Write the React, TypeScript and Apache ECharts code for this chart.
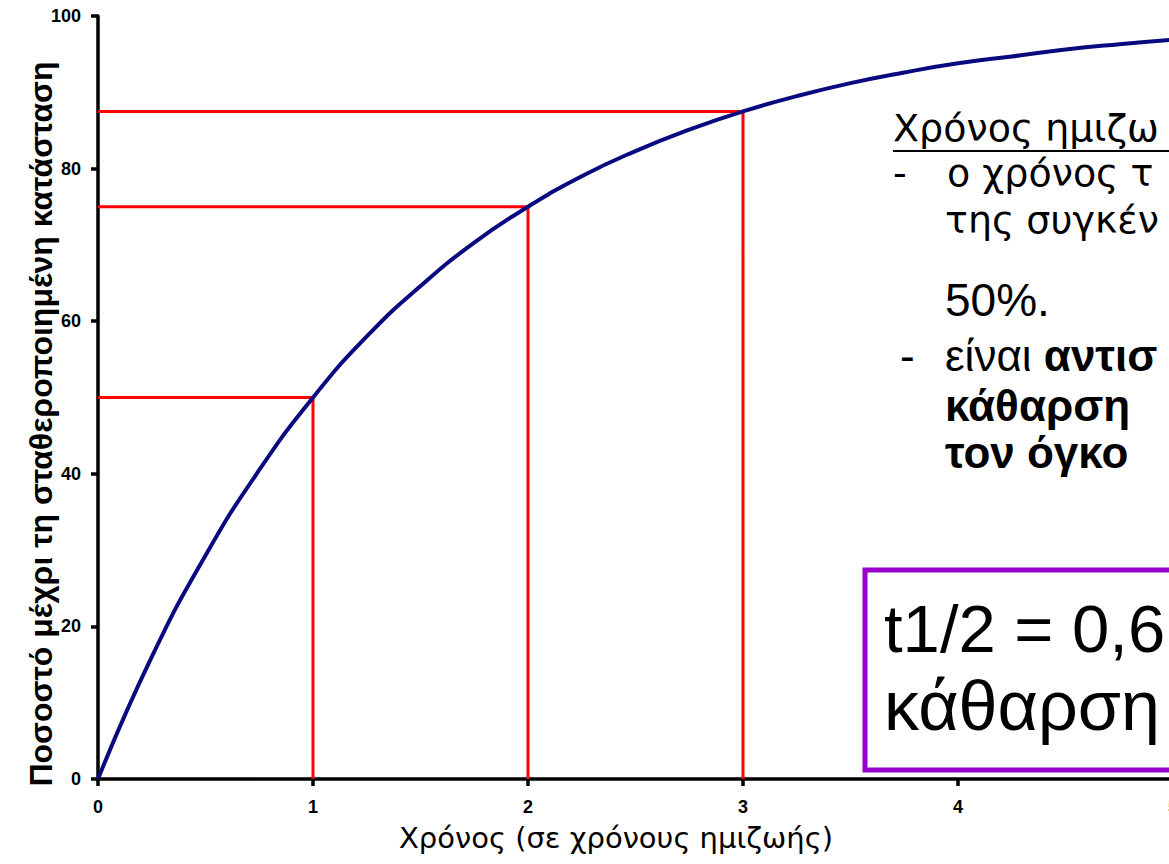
import React, { useEffect, useRef } from "react";
import * as echarts from "echarts";

// Time in half-lives and percentage of steady state
const halfLives = [0, 0.25, 0.5, 0.75, 1, 1.25, 1.5, 1.75, 2, 2.25, 2.5, 2.75, 3, 3.25, 3.5, 3.75, 4, 4.25, 4.5, 4.75, 5];
const percentSteady = [0, 16, 29.3, 40.5, 50, 58, 64.6, 70.3, 75, 79, 82.3, 85.1, 87.5, 89.5, 91.2, 92.6, 93.8, 94.7, 95.6, 96.3, 96.9];

// Guide points (half-life count, percentage)
const guideX = [1, 2, 3];
const guideY = [50, 75, 87.5];

const yTitle = "Ποσοστό μέχρι τη σταθεροποιημένη κατάσταση";
const xTitle = "Χρόνος (σε χρόνους ημιζωής)";

// Visible parts of the side note (the slide is cropped at the right edge)
const noteHeading = "Χρόνος ημιζω";
const note1a = "ο χρόνος τ";
const note1b = "της συγκέν";
const note1c = "50%.";
const note2Regular = "είναι ";
const note2Bold = "αντισ";
const note2b = "κάθαρση";
const note2c = "τον όγκο";
const formula1 = "t1/2 = 0,6";
const formula2 = "κάθαρση";

export default function App() {
  const ref = useRef<HTMLDivElement>(null);
  useEffect(() => {
    if (!ref.current) return;
    const chart = echarts.init(ref.current, null, { renderer: "svg" });
    const curve = halfLives.map((x, i) => [x, percentSteady[i]]);
    const guides = guideX.map((gx, i) => ({
      type: "line",
      data: [[0, guideY[i]], [gx, guideY[i]], [gx, 0]],
      symbol: "none",
      lineStyle: { color: "#ff0000", width: 3 },
      z: 2,
    }));
    const humanist = "'DejaVu Sans', 'Open Sans', sans-serif";
    const arial = "'Liberation Sans', Arial, sans-serif";
    chart.setOption({
      animation: false,
      backgroundColor: "#ffffff",
      grid: { left: 98, top: 16, width: 1075, bottom: 85, containLabel: false, outerBoundsMode: "none" },
      xAxis: {
        type: "value",
        min: 0,
        max: 5,
        interval: 1,
        axisLine: { show: true, lineStyle: { color: "#000", width: 3.5 } },
        axisTick: { show: true, length: 7, lineStyle: { color: "#000", width: 3.5 } },
        axisLabel: { color: "#000", fontFamily: arial, fontWeight: "bold", fontSize: 18, margin: 19 },
        splitLine: { show: false },
      },
      yAxis: {
        type: "value",
        min: 0,
        max: 100,
        interval: 20,
        axisLine: { show: true, lineStyle: { color: "#000", width: 3.5 } },
        axisTick: { show: true, length: 7, lineStyle: { color: "#000", width: 3.5 } },
        axisLabel: { color: "#000", fontFamily: arial, fontWeight: "bold", fontSize: 18, margin: 17 },
        splitLine: { show: false },
      },
      series: [
        ...guides,
        {
          type: "line",
          data: curve,
          smooth: true,
          symbol: "none",
          lineStyle: { color: "#0a0a80", width: 4 },
          z: 3,
        },
      ],
      graphic: [
        {
          type: "text",
          x: 41,
          y: 424,
          rotation: Math.PI / 2,
          style: {
            text: yTitle,
            fontFamily: arial,
            fontWeight: "bold",
            fontSize: 32,
            fill: "#000",
            align: "center",
            verticalAlign: "middle",
          },
        },
        {
          type: "text",
          x: 616,
          y: 838,
          style: {
            text: xTitle,
            fontFamily: humanist,
            fontSize: 29,
            fill: "#000",
            align: "center",
            verticalAlign: "middle",
          },
        },
        {
          type: "rect",
          shape: { x: 865, y: 570, width: 330, height: 200 },
          style: { fill: "#ffffff", stroke: "#9900cc", lineWidth: 5 },
          z: 10,
        },
        {
          type: "text",
          x: 884,
          y: 628,
          z: 11,
          style: { text: formula1, fontFamily: arial, fontSize: 67, fill: "#000", verticalAlign: "middle" },
        },
        {
          type: "text",
          x: 884,
          y: 706,
          z: 11,
          style: { text: formula2, fontFamily: arial, fontSize: 70, fill: "#000", verticalAlign: "middle" },
        },
        {
          type: "text",
          x: 893,
          y: 128,
          style: { text: noteHeading, fontFamily: humanist, fontSize: 38, fill: "#000", verticalAlign: "middle" },
        },
        {
          type: "line",
          shape: { x1: 893, y1: 151, x2: 1200, y2: 151 },
          style: { stroke: "#000", lineWidth: 2 },
        },
        {
          type: "text",
          x: 893,
          y: 173,
          style: { text: "-", fontFamily: humanist, fontSize: 38, fill: "#000", verticalAlign: "middle" },
        },
        {
          type: "text",
          x: 947,
          y: 173,
          style: { text: note1a, fontFamily: humanist, fontSize: 38, fill: "#000", verticalAlign: "middle" },
        },
        {
          type: "text",
          x: 945,
          y: 220,
          style: { text: note1b, fontFamily: humanist, fontSize: 38, fill: "#000", verticalAlign: "middle" },
        },
        {
          type: "text",
          x: 945,
          y: 300,
          style: { text: note1c, fontFamily: arial, fontSize: 46, fill: "#000", verticalAlign: "middle" },
        },
        {
          type: "text",
          x: 900,
          y: 355,
          style: { text: "-", fontFamily: arial, fontSize: 44, fill: "#000", verticalAlign: "middle" },
        },
        {
          type: "text",
          x: 945,
          y: 355,
          style: {
            text: "{r|" + note2Regular + "}{b|" + note2Bold + "}",
            verticalAlign: "middle",
            rich: {
              r: { fontFamily: arial, fontSize: 44, fill: "#000", color: "#000" },
              b: { fontFamily: arial, fontSize: 44, fontWeight: "bold", fill: "#000", color: "#000" },
            },
          },
        },
        {
          type: "text",
          x: 945,
          y: 405,
          style: { text: note2b, fontFamily: arial, fontWeight: "bold", fontSize: 44, fill: "#000", verticalAlign: "middle" },
        },
        {
          type: "text",
          x: 945,
          y: 452,
          style: { text: note2c, fontFamily: arial, fontWeight: "bold", fontSize: 44, fill: "#000", verticalAlign: "middle" },
        },
      ],
    });
    return () => chart.dispose();
  }, []);
  return (
    <div
      ref={ref}
      style={{ position: "fixed", left: 0, top: 0, width: 1169, height: 864, overflow: "hidden", background: "#fff" }}
    />
  );
}
